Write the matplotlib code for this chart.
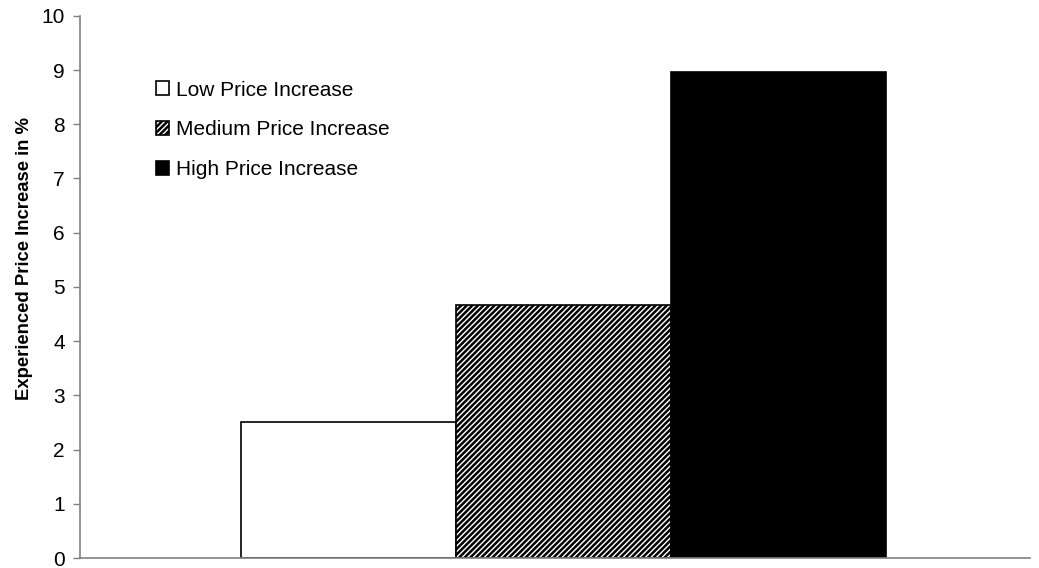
import numpy as np
import matplotlib.pyplot as plt

plt.rcParams['font.family'] = ['Liberation Sans', 'DejaVu Sans']
plt.rcParams['hatch.linewidth'] = 1.8

# Experienced price increase per condition
labels = ["Low Price Increase", "Medium Price Increase", "High Price Increase"]
values = [2.5, 4.67, 8.97]
faces = ["white", "white", "black"]
hatches = [None, "//////", None]

fig = plt.figure(figsize=(10.39, 5.68), dpi=100)
ax = fig.add_axes([0.077, 0.0176, 0.914, 0.9546])

pos = np.arange(len(values)) * 1.0
for p, v, lab, fc, h in zip(pos, values, labels, faces, hatches):
    ax.bar(p, v, width=1.0, color=fc, edgecolor="black", hatch=h,
           linewidth=1.2, label=lab)

ax.set_xlim(-1.25, 3.17)
ax.set_ylim(0, 10)
ax.set_yticks(range(0, 11))
ax.set_xticks([])
ax.set_ylabel("Experienced Price Increase in %", fontsize=13.3, fontweight="bold")
ax.yaxis.set_label_coords(-0.05, 0.553)
ax.tick_params(axis="y", direction="out", length=5, width=1, color="#808080",
               labelsize=15, pad=6)

for s in ["top", "right"]:
    ax.spines[s].set_visible(False)
for s in ["left", "bottom"]:
    ax.spines[s].set_color("#808080")
    ax.spines[s].set_linewidth(1.2)

ax.legend(loc="upper left", bbox_to_anchor=(0.06, 0.915), frameon=False,
          fontsize=15, handlelength=0.65, handleheight=0.65, handletextpad=0.3,
          labelspacing=0.99)

fig.savefig("out.png", dpi=100)
